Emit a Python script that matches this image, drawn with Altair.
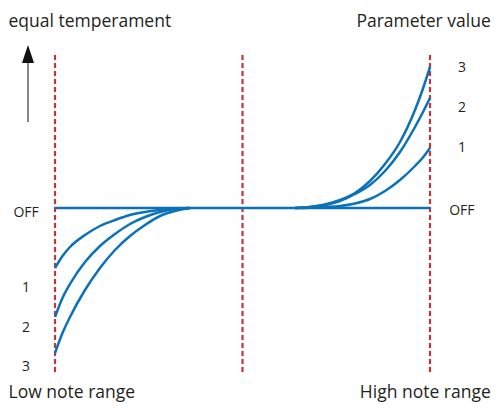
import altair as alt
import pandas as pd

# note position (0 = low end, 50 = middle, 100 = high end)
low_x = [0, 2, 4, 8, 12, 16, 20, 24, 28, 32, 36]
high_x = [64, 68, 72, 76, 80, 84, 88, 92, 96, 98, 100]

# deviation from equal temperament (positive = up)
low_1 = [-60, -48, -39, -27, -18, -12, -7, -4, -2, -0.5, 0]
low_2 = [-109, -90, -76, -54, -38, -26, -16, -9, -4, -1, 0]
low_3 = [-145, -125, -109, -82, -60, -42, -28, -17, -8, -3, 0]
high_1 = [0, 0.3, 1, 2, 4.5, 9, 17, 28, 42, 50, 60]
high_2 = [0, 1, 3, 7, 14, 23, 37, 56, 81, 95, 110]
high_3 = [0, 1, 3.5, 8, 15, 27, 44, 66, 98, 118, 141]
off_x = [0, 100]
off_y = [0, 0]

range_x = [0, 50, 100]
range_top = 156
range_bottom = -164

left_labels = ["OFF", "1", "2", "3"]
left_label_y = [-5, -80, -120, -159]
right_labels = ["3", "2", "1", "OFF"]
right_label_y = [140, 100, 60, -3]

BLUE = "#0b72b9"
RED = "#c4343a"
INK = "#231f20"
FONT = "Open Sans"

rows = []
for name, xs_, ys_ in [("low1", low_x, low_1), ("low2", low_x, low_2), ("low3", low_x, low_3),
                       ("high1", high_x, high_1), ("high2", high_x, high_2), ("high3", high_x, high_3),
                       ("off", off_x, off_y)]:
    for x, y in zip(xs_, ys_):
        rows.append({"series": name, "x": x, "y": y})
lines_df = pd.DataFrame(rows)

xs = alt.Scale(domain=[-12.533, 116.533], nice=False, zero=False)
ys = alt.Scale(domain=[-196, 200], nice=False, zero=False)

lines = alt.Chart(lines_df).mark_line(color=BLUE, strokeWidth=2.5, interpolate="monotone").encode(
    x=alt.X("x:Q", scale=xs, axis=None),
    y=alt.Y("y:Q", scale=ys, axis=None),
    detail="series:N",
)

rules_df = pd.DataFrame({"x": range_x, "y": [range_bottom] * 3, "y2": [range_top] * 3})
rules = alt.Chart(rules_df).mark_rule(color=RED, strokeWidth=2.2, strokeDash=[5, 3]).encode(
    x=alt.X("x:Q", scale=xs, axis=None),
    y=alt.Y("y:Q", scale=ys, axis=None),
    y2="y2:Q",
)

arrow_df = pd.DataFrame({"x": [-7.2], "y": [86], "y2": [147], "yh": [154]})
shaft = alt.Chart(arrow_df).mark_rule(color="#444444", strokeWidth=1.3).encode(
    x=alt.X("x:Q", scale=xs, axis=None),
    y=alt.Y("y:Q", scale=ys, axis=None),
    y2="y2:Q",
)
head = alt.Chart(arrow_df).mark_point(
    shape="M-0.67,1L0,-1L0.67,1Z", size=324, filled=True, color="#111111", opacity=1, strokeWidth=0
).encode(
    x=alt.X("x:Q", scale=xs, axis=None),
    y=alt.Y("yh:Q", scale=ys, axis=None),
)

left_df = pd.DataFrame({"label": left_labels, "x": [-7.7] * 4, "y": left_label_y})
left_text = alt.Chart(left_df).mark_text(font=FONT, fontSize=14, color=INK, align="center", baseline="middle").encode(
    x=alt.X("x:Q", scale=xs, axis=None),
    y=alt.Y("y:Q", scale=ys, axis=None),
    text="label:N",
)
right_df = pd.DataFrame({"label": right_labels, "x": [108.5] * 4, "y": right_label_y})
right_text = alt.Chart(right_df).mark_text(font=FONT, fontSize=14, color=INK, align="center", baseline="middle").encode(
    x=alt.X("x:Q", scale=xs, axis=None),
    y=alt.Y("y:Q", scale=ys, axis=None),
    text="label:N",
)

titles_left_df = pd.DataFrame({"label": ["equal temperament", "Low note range"], "x": [-12.4, -12.4], "y": [181, -190]})
titles_left = alt.Chart(titles_left_df).mark_text(font=FONT, fontSize=17.5, color=INK, align="left", baseline="alphabetic").encode(
    x=alt.X("x:Q", scale=xs, axis=None),
    y=alt.Y("y:Q", scale=ys, axis=None),
    text="label:N",
)
titles_right_df = pd.DataFrame({"label": ["Parameter value", "High note range"], "x": [116.2, 116.2], "y": [181, -190]})
titles_right = alt.Chart(titles_right_df).mark_text(font=FONT, fontSize=17.5, color=INK, align="right", baseline="alphabetic").encode(
    x=alt.X("x:Q", scale=xs, axis=None),
    y=alt.Y("y:Q", scale=ys, axis=None),
    text="label:N",
)

chart = alt.layer(rules, lines, shaft, head, left_text, right_text, titles_left, titles_right).properties(
    width=484, height=396, padding=0, autosize=alt.AutoSizeParams(type="none"), background="white"
).configure_view(stroke=None)

chart.save("out.html", embed_options={"renderer": "svg", "actions": False})
